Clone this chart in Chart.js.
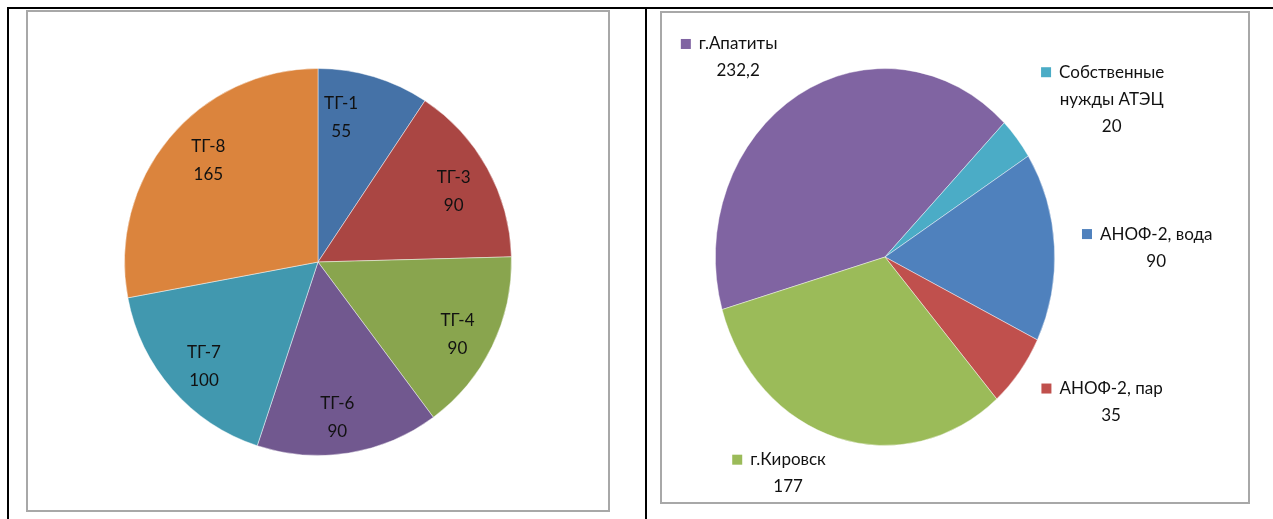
<!DOCTYPE html>
<html><head><meta charset="utf-8">
<script src="https://cdn.jsdelivr.net/npm/chart.js@4/dist/chart.umd.min.js"></script>
<style>
html,body{margin:0;padding:0;background:#fff}
body{width:1273px;height:519px;position:relative;overflow:hidden}
.bl{position:absolute;background:#000}
.frame{position:absolute;border:2px solid #a8a8a8;box-sizing:border-box;background:#fff}
canvas{display:block}
</style></head><body>
<div class="bl" style="left:7px;top:7px;width:1266px;height:2px"></div>
<div class="bl" style="left:7px;top:7px;width:2px;height:512px"></div>
<div class="bl" style="left:645px;top:7px;width:2px;height:512px"></div>
<div class="frame" style="left:26px;top:10px;width:584px;height:502px"><canvas id="c1" width="580" height="498"></canvas></div>
<div class="frame" style="left:660px;top:11px;width:590px;height:493px"><canvas id="c2" width="586" height="489"></canvas></div>
<script>
// ---- data ----
const leftLabels = ['ТГ-1','ТГ-3','ТГ-4','ТГ-6','ТГ-7','ТГ-8'];
const leftValues = [55, 90, 90, 90, 100, 165];
const leftColors = ['#4572A7','#AA4643','#89A54E','#71588F','#4198AF','#DB843D'];

const rightLabels = ['г.Апатиты','Собственные нужды АТЭЦ','АНОФ-2, вода','АНОФ-2, пар','г.Кировск'];
const rightValues = [232.2, 20, 90, 35, 177];
const rightColors = ['#8064A2','#4BACC6','#4F81BD','#C0504D','#9BBB59'];

const FONT = '17px Lato';
const fmt = v => String(v).replace('.', ',');

function wrap(ctx, text, maxW){
  const words = text.split(' '); const lines = []; let cur = '';
  for (const w of words){
    const t = cur ? cur + ' ' + w : w;
    if (cur && ctx.measureText(t).width > maxW){ lines.push(cur); cur = w; } else cur = t;
  }
  if (cur) lines.push(cur);
  return lines;
}

const pieLabels = {
  id: 'pieLabels',
  beforeDatasetsDraw(chart, args, o){
    const ctx = chart.ctx; const a = chart.getDatasetMeta(0).data[0];
    ctx.save();
    ctx.translate(a.x, a.y); ctx.scale(o.sx || 1, 1); ctx.translate(-a.x, -a.y);
  },
  afterDatasetsDraw(chart, args, o){
    const ctx = chart.ctx;
    ctx.restore();
    const meta = chart.getDatasetMeta(0);
    const ds = chart.data.datasets[0];
    ctx.save();
    ctx.font = FONT; ctx.fillStyle = '#111';
    ctx.textAlign = 'center'; ctx.textBaseline = 'middle';
    meta.data.forEach((arc, i) => {
      const p = arc.getProps(['x','y','startAngle','endAngle','outerRadius'], true);
      const mid = (p.startAngle + p.endAngle) / 2;
      const r = p.outerRadius * o.k;
      const off = (o.offsets && o.offsets[i]) || [0,0];
      const cx = p.x + Math.cos(mid) * r * (o.sx || 1) + off[0];
      const cy = p.y + Math.sin(mid) * r + off[1] + (o.dy || 0);
      const lines = wrap(ctx, chart.data.labels[i], o.maxW || 999);
      lines.push(fmt(ds.data[i]));
      const lh = o.lineH;
      const y0 = cy - (lines.length - 1) * lh / 2;
      lines.forEach((ln, j) => ctx.fillText(ln, cx, y0 + j * lh));
      if (o.keys){
        const w = ctx.measureText(lines[0]).width;
        ctx.fillStyle = ds.backgroundColor[i];
        ctx.fillRect(cx - w/2 - 8 - 10, y0 - 5, 10, 10);
        ctx.fillStyle = '#111';
      }
    });
    ctx.restore();
  }
};

function pie(id, labels, values, colors, pad, rotation, labelOpts){
  return new Chart(document.getElementById(id), {
    type: 'pie',
    data: { labels, datasets: [{ data: values, backgroundColor: colors, borderColor: 'rgba(255,255,255,0.45)', borderWidth: 1 }] },
    options: {
      responsive: false, animation: false, rotation,
      layout: { padding: pad },
      plugins: { legend: { display: false }, tooltip: { enabled: false }, pieLabels: labelOpts }
    },
    plugins: [pieLabels]
  });
}

pie('c1', leftLabels, leftValues, leftColors,
  { left: 96, right: 96, top: 56, bottom: 54 }, 0,
  { k: 0.79, sx: 1, lineH: 28, dy: 4, offsets: [[-21,-2],[2,0],[2,2],[-5,1],[1,0],[8,-8]] });

pie('c2', rightLabels, rightValues, rightColors,
  { left: 34, right: 174, top: 55, bottom: 56 }, -106.2,
  { k: 1.3, sx: 0.9, lineH: 27, keys: true, maxW: 128,
    offsets: [[-34,11],[55,-4],[51,4],[51,-4],[-35,-19]] });
</script>
</body></html>
